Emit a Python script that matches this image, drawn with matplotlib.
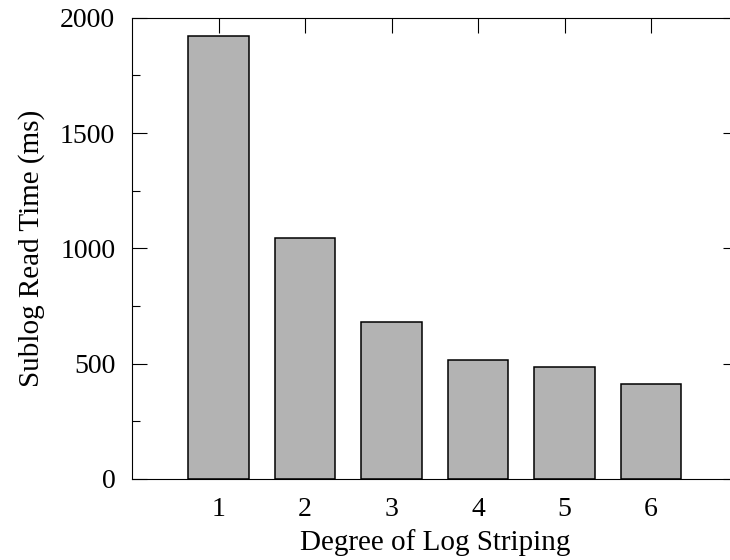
import matplotlib
matplotlib.use('Agg')
import matplotlib.pyplot as plt
from matplotlib.ticker import MultipleLocator

# 数据
degrees = [1, 2, 3, 4, 5, 6]
read_ms = [1920, 1045, 680, 515, 485, 410]

plt.rcParams['font.family'] = ['Liberation Serif', 'DejaVu Serif']
plt.rcParams['font.size'] = 20

fig = plt.figure(figsize=(7.3, 5.6), dpi=100)
# 右边框在图外（原图被裁掉）
ax = fig.add_axes([132 / 730, 81 / 560, 605.5 / 730, 461.3 / 560])

ax.bar(degrees, read_ms, width=0.7, color='#b3b3b3', edgecolor='black',
       linewidth=1.1, zorder=2)

ax.set_xlim(0, 7)
ax.set_ylim(0, 2000)
ax.set_xticks(degrees)
ax.yaxis.set_major_locator(MultipleLocator(500))
ax.yaxis.set_minor_locator(MultipleLocator(250))

ax.tick_params(axis='both', which='major', direction='in', length=11,
               width=0.8, top=True, right=True, labelsize=20, pad=12)
ax.tick_params(axis='y', which='minor', direction='in', length=6,
               width=0.8, left=True, right=True)
ax.tick_params(axis='x', which='major', pad=13)
for s in ax.spines.values():
    s.set_linewidth(0.8)

ax.set_xlabel('Degree of Log Striping', fontsize=21, labelpad=5)
ax.set_ylabel('Sublog Read Time (ms)', fontsize=21, labelpad=11)

fig.savefig('out.png', dpi=100)
